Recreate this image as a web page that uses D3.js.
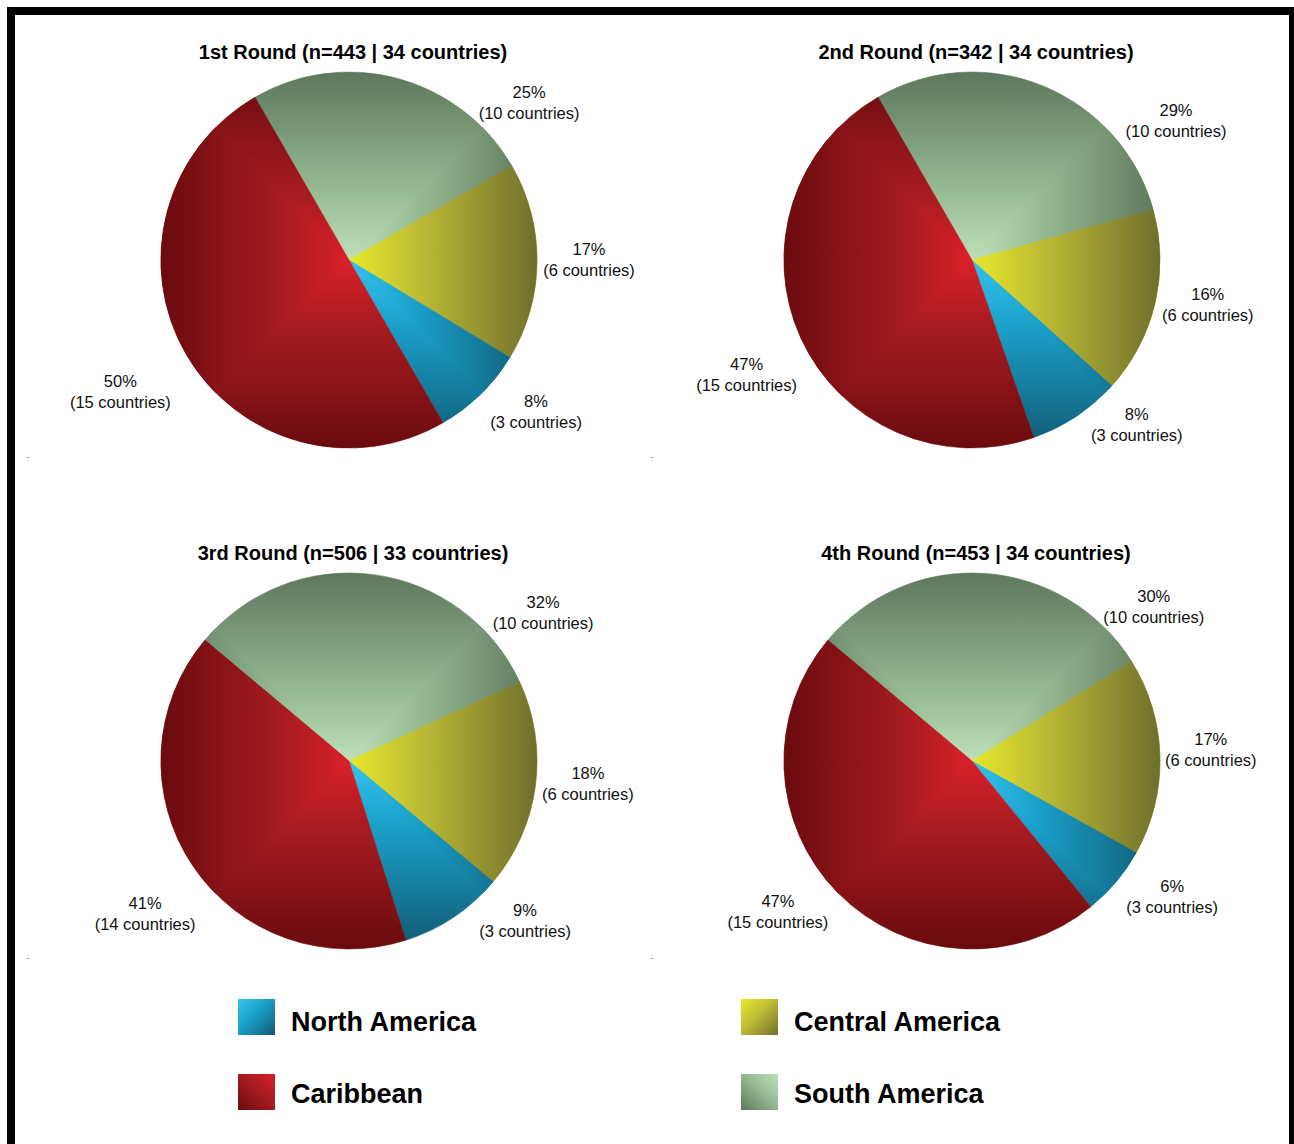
<!DOCTYPE html>
<html>
<head>
<meta charset="utf-8">
<script src="https://cdn.jsdelivr.net/npm/d3@7"></script>
<style>
html,body{margin:0;padding:0;background:#fff;}
svg{display:block;}
</style>
</head>
<body>
<svg id="chart" width="1294" height="1144"></svg>
<script>
// ---------------- DATA ----------------
const regions = ["South America", "Central America", "North America", "Caribbean"];
const rounds = ["1st Round", "2nd Round", "3rd Round", "4th Round"];
const respondents = [443, 342, 506, 453];
const countryTotals = [34, 34, 33, 34];

const southAmericaPct = [25, 29, 32, 30];
const centralAmericaPct = [17, 16, 18, 17];
const northAmericaPct = [8, 8, 9, 6];
const caribbeanPct = [50, 47, 41, 47];

const southAmericaCountries = [10, 10, 10, 10];
const centralAmericaCountries = [6, 6, 6, 6];
const northAmericaCountries = [3, 3, 3, 3];
const caribbeanCountries = [15, 15, 14, 15];

const legendOrder = ["North America", "Central America", "Caribbean", "South America"];

// ---------------- LAYOUT / STYLE ----------------
const R = 188;
const colX = d3.scalePoint().domain([0, 1]).range([349, 972]);
const rowY = d3.scalePoint().domain([0, 1]).range([260, 761]);
const startAnglesDeg = [-30, -30, -50, -50];
// label placement (polar, relative to pie centre): angle in degrees clockwise from 12 o'clock
const labelAnglesDeg = [
  [48.9, 90, 129.1, 240],
  [55.7, 100.8, 135, 243],
  [52.7, 95.5, 132.3, 233.1],
  [49.8, 87.4, 124.2, 232.1]
];
const labelDists = [
  [239, 240, 241, 264],
  [247, 240, 233, 253],
  [244, 240, 238, 255],
  [238, 239, 242, 246]
];

// shading: [centre, mid, edge]
const shades = {
  "South America":   ["#bde0b9", "#97bb93", "#5d775c"],
  "Central America": ["#e8e82a", "#bfbd35", "#6f6f2e"],
  "North America":   ["#33c3ee", "#1a9fc8", "#115a73"],
  "Caribbean":       ["#da2029", "#a61b21", "#6a0b0e"]
};
const slug = s => s.replace(/\s+/g, "-").toLowerCase();

const svg = d3.select("#chart");
const defs = svg.append("defs");

// mirrored linear gradients (rectangular "from centre" shading)
regions.forEach(reg => {
  const [c0, c1, c2] = shades[reg];
  const stops = [[0, c2], [0.32, c1], [0.5, c0], [0.68, c1], [1, c2]];
  const v = defs.append("linearGradient").attr("id", "gv-" + slug(reg))
    .attr("gradientUnits", "userSpaceOnUse")
    .attr("x1", 0).attr("y1", -R).attr("x2", 0).attr("y2", R);
  stops.forEach(s => v.append("stop").attr("offset", s[0]).attr("stop-color", s[1]));
  const h = defs.append("linearGradient").attr("id", "gh-" + slug(reg))
    .attr("gradientUnits", "userSpaceOnUse")
    .attr("x1", -R).attr("y1", 0).attr("x2", R).attr("y2", 0);
  stops.forEach(s => h.append("stop").attr("offset", s[0]).attr("stop-color", s[1]));
});

// hourglass clip (left and right triangles)
const M = R + 6;
defs.append("clipPath").attr("id", "hourglass").attr("clipPathUnits", "userSpaceOnUse")
  .append("path")
  .attr("d", `M0,0 L${-M},${-M} L${-M},${M} Z M0,0 L${M},${-M} L${M},${M} Z`);

// legend swatch gradients
const swatchDir = {
  "North America":   [0, 0, 1, 1],
  "Central America": [0, 0, 1, 1],
  "Caribbean":       [1, 0, 0, 1],
  "South America":   [1, 0, 0, 1]
};
regions.forEach(reg => {
  const [c0, c1, c2] = shades[reg];
  const d = swatchDir[reg];
  const g = defs.append("linearGradient").attr("id", "gs-" + slug(reg))
    .attr("x1", d[0]).attr("y1", d[1]).attr("x2", d[2]).attr("y2", d[3]);
  g.append("stop").attr("offset", 0).attr("stop-color", c0);
  g.append("stop").attr("offset", 0.45).attr("stop-color", c1);
  g.append("stop").attr("offset", 1).attr("stop-color", c2);
});

// frame
const frame = svg.append("g").attr("fill", "#000");
frame.append("rect").attr("x", 7).attr("y", 7).attr("width", 1287).attr("height", 8);
frame.append("rect").attr("x", 7).attr("y", 7).attr("width", 8).attr("height", 1137);
frame.append("rect").attr("x", 1289).attr("y", 7).attr("width", 5).attr("height", 1137);

// tiny plot-area corner marks
[[27, 457], [651, 457], [27, 958], [651, 958]].forEach(p => {
  svg.append("rect").attr("x", p[0]).attr("y", p[1]).attr("width", 2).attr("height", 1)
    .attr("fill", "#c98a7c");
});

const arc = d3.arc().innerRadius(0).outerRadius(R);

rounds.forEach((rnd, p) => {
  const cx = colX(p % 2), cy = rowY(Math.floor(p / 2));
  const values = [
    {region: regions[0], pct: southAmericaPct[p], n: southAmericaCountries[p]},
    {region: regions[1], pct: centralAmericaPct[p], n: centralAmericaCountries[p]},
    {region: regions[2], pct: northAmericaPct[p], n: northAmericaCountries[p]},
    {region: regions[3], pct: caribbeanPct[p], n: caribbeanCountries[p]}
  ];
  const a0 = startAnglesDeg[p] * Math.PI / 180;
  const pie = d3.pie().sort(null).value(d => d.pct).startAngle(a0).endAngle(a0 + 2 * Math.PI);
  const arcs = pie(values);

  const g = svg.append("g").attr("transform", `translate(${cx},${cy})`);

  g.selectAll("path.base").data(arcs).enter().append("path")
    .attr("class", "base")
    .attr("d", arc)
    .attr("fill", d => `url(#gv-${slug(d.data.region)})`)
    .attr("stroke", d => `url(#gv-${slug(d.data.region)})`)
    .attr("stroke-width", 0.6);

  g.append("g").attr("clip-path", "url(#hourglass)")
    .selectAll("path").data(arcs).enter().append("path")
    .attr("d", arc)
    .attr("fill", d => `url(#gh-${slug(d.data.region)})`)
    .attr("stroke", d => `url(#gh-${slug(d.data.region)})`)
    .attr("stroke-width", 0.6);

  // title
  svg.append("text")
    .attr("x", cx + 4).attr("y", cy - 201)
    .attr("text-anchor", "middle")
    .attr("font-family", "'Liberation Sans', Arial, sans-serif")
    .attr("font-weight", "bold").attr("font-size", 20).attr("fill", "#000")
    .text(`${rnd} (n=${respondents[p]} | ${countryTotals[p]} countries)`);

  // labels
  arcs.forEach((d, i) => {
    const ang = labelAnglesDeg[p][i] * Math.PI / 180;
    const dist = labelDists[p][i];
    const lx = Math.sin(ang) * dist, ly = -Math.cos(ang) * dist;
    const t = g.append("text")
      .attr("text-anchor", "middle")
      .attr("font-family", "'Liberation Sans', Arial, sans-serif")
      .attr("font-size", 16.5).attr("fill", "#111");
    t.append("tspan").attr("x", lx).attr("y", ly - 5).text(`${d.data.pct}%`);
    t.append("tspan").attr("x", lx).attr("y", ly + 16).text(`(${d.data.n} countries)`);
  });
});

// legend
const legX = d3.scalePoint().domain([0, 1]).range([238, 741]);
const legY = d3.scalePoint().domain([0, 1]).range([999, 1074]);
const legBase = d3.scalePoint().domain([0, 1]).range([1031, 1103]);
legendOrder.forEach((reg, i) => {
  const x = legX(i % 2), row = Math.floor(i / 2), y = legY(row);
  svg.append("rect").attr("x", x).attr("y", y).attr("width", 37).attr("height", 36)
    .attr("fill", `url(#gs-${slug(reg)})`);
  svg.append("text").attr("x", x + 53).attr("y", legBase(row))
    .attr("font-family", "'Liberation Sans', Arial, sans-serif")
    .attr("font-weight", "bold").attr("font-size", 27).attr("fill", "#000")
    .text(reg);
});
</script>
</body>
</html>
